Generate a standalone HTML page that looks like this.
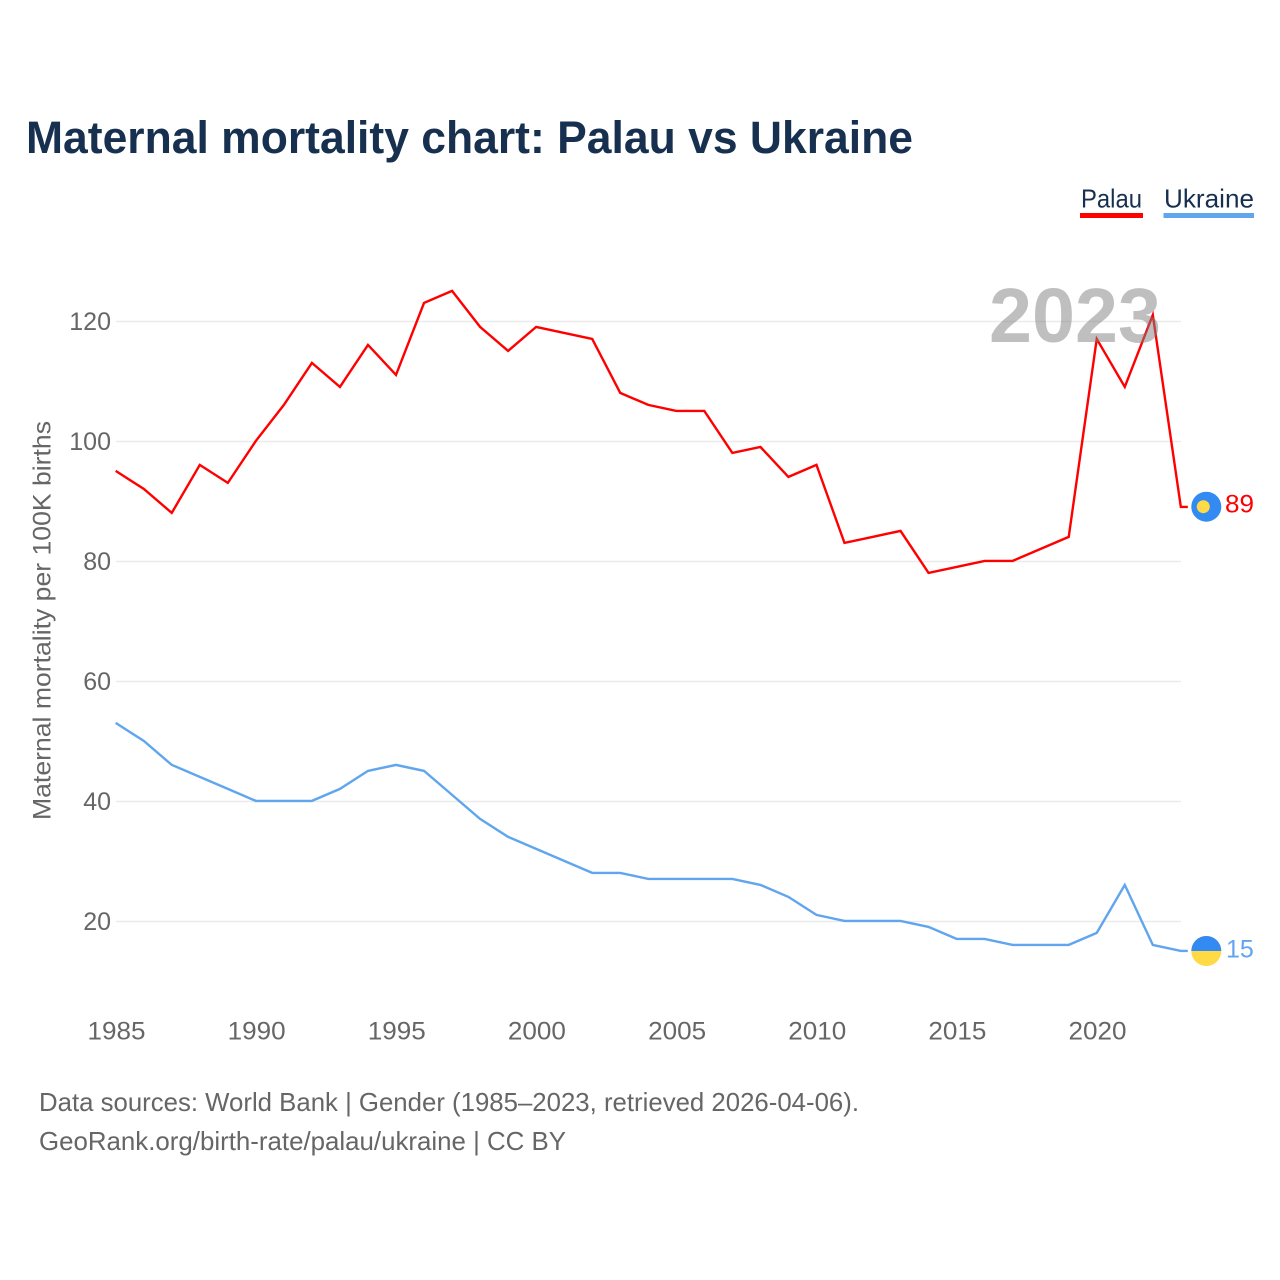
<!DOCTYPE html>
<html lang="en">
<head>
<meta charset="utf-8">
<title>Maternal mortality chart: Palau vs Ukraine</title>
<style>
html,body{margin:0;padding:0;background:#fff;width:1280px;height:1280px;overflow:hidden}
svg{display:block}
text{font-family:"Liberation Sans",sans-serif}
</style>
</head>
<body>
<svg id="chart" width="1280" height="1280" viewBox="0 0 1280 1280" xmlns="http://www.w3.org/2000/svg">
  <rect x="0" y="0" width="1280" height="1280" fill="#fff"/>
  <text x="26" y="153" font-size="45" font-weight="700" fill="#17304f" textLength="887" lengthAdjust="spacingAndGlyphs">Maternal mortality chart: Palau vs Ukraine</text>
  <g>
    <g>
      <text x="1081" y="207.5" font-size="26" fill="#17304f" textLength="61" lengthAdjust="spacingAndGlyphs">Palau</text>
      <rect x="1080" y="213" width="63" height="5" fill="#ff0000"/>
    </g>
    <g>
      <text x="1164" y="207.5" font-size="26" fill="#17304f" textLength="90" lengthAdjust="spacingAndGlyphs">Ukraine</text>
      <rect x="1163.5" y="213" width="90.5" height="5" fill="#60a5ee"/>
    </g>
  </g>
  <g id="grid"></g>
  <g id="yticks"></g>
  <g id="xticks"></g>
  <text transform="translate(50.5,820) rotate(-90)" x="0" y="0" font-size="25" fill="#666" textLength="399" lengthAdjust="spacingAndGlyphs">Maternal mortality per 100K births</text>
  <g id="series"></g>
  <text x="989" y="342" font-size="77" font-weight="700" fill="#808080" fill-opacity="0.5" textLength="172" lengthAdjust="spacingAndGlyphs">2023</text>
  <g id="ends"></g>
  <text x="39" y="1111" font-size="26" fill="#666" textLength="820" lengthAdjust="spacingAndGlyphs">Data sources: World Bank | Gender (1985–2023, retrieved 2026-04-06).</text>
  <text x="39" y="1150" font-size="26" fill="#666" textLength="527" lengthAdjust="spacingAndGlyphs">GeoRank.org/birth-rate/palau/ukraine | CC BY</text>
</svg>
<script>
const years = [1985,1986,1987,1988,1989,1990,1991,1992,1993,1994,1995,1996,1997,1998,1999,2000,2001,2002,2003,2004,2005,2006,2007,2008,2009,2010,2011,2012,2013,2014,2015,2016,2017,2018,2019,2020,2021,2022,2023];
const palauValues = [95,92,88,96,93,100,106,113,109,116,111,123,125,119,115,119,118,117,108,106,105,105,98,99,94,96,83,84,85,78,79,80,80,82,84,117,109,121,89];
const ukraineValues = [53,50,46,44,42,40,40,40,42,45,46,45,41,37,34,32,30,28,28,27,27,27,27,26,24,21,20,20,20,19,17,17,16,16,16,18,26,16,15];
const yTickValues = [20,40,60,80,100,120];
const xTickValues = [1985,1990,1995,2000,2005,2010,2015,2020];

const NS = 'http://www.w3.org/2000/svg';
const xScale = function (year) { return 116 + (year - 1985) * 28.03; };
const yScale = function (value) { return 1041.5 - value * 6; };
const lineY = function (value) { return yScale(value) - 0.6; };
const make = function (tag, parent) {
  const el = document.createElementNS(NS, tag);
  document.getElementById(parent).appendChild(el);
  return el;
};

yTickValues.forEach(function (v) {
  const line = make('line', 'grid');
  
  
  line.setAttribute('x1', 116);
  line.setAttribute('x2', 1181);
  line.setAttribute('y1', yScale(v));
  line.setAttribute('y2', yScale(v));
  line.setAttribute('stroke', '#ebebeb');
  line.setAttribute('stroke-width', 1.5);
  const label = make('text', 'yticks');
  
  
  label.setAttribute('x', 111);
  label.setAttribute('y', yScale(v) + 8.5);
  label.setAttribute('text-anchor', 'end');
  label.setAttribute('font-size', 25);
  label.setAttribute('fill', '#666');
  label.textContent = v;
});

xTickValues.forEach(function (y) {
  const label = make('text', 'xticks');
  
  
  label.setAttribute('x', xScale(y) + 0.5);
  label.setAttribute('y', 1039.5);
  label.setAttribute('text-anchor', 'middle');
  label.setAttribute('font-size', 25);
  label.setAttribute('fill', '#666');
  label.setAttribute('textLength', 58);
  label.setAttribute('lengthAdjust', 'spacingAndGlyphs');
  label.textContent = y;
});

const pathFor = function (values, extra) {
  let d = values.map(function (v, i) {
    return (i ? 'L' : 'M') + (xScale(years[i]) - 0.3).toFixed(2) + ' ' + lineY(v).toFixed(2);
  }).join(' ');
  return d + ' h' + extra;
};

const palauLine = make('path', 'series');


palauLine.setAttribute('d', pathFor(palauValues, 7));
palauLine.setAttribute('fill', 'none');
palauLine.setAttribute('stroke', '#ff0000');
palauLine.setAttribute('stroke-width', 2.4);

const ukraineLine = make('path', 'series');


ukraineLine.setAttribute('d', pathFor(ukraineValues, 7));
ukraineLine.setAttribute('fill', 'none');
ukraineLine.setAttribute('stroke', '#60a5ee');
ukraineLine.setAttribute('stroke-width', 2.4);

const palauEnd = palauValues[palauValues.length - 1];
const ukraineEnd = ukraineValues[ukraineValues.length - 1];
const endCx = 1206.3;

const palauCy = yScale(palauEnd) - 0.8;
const palauFlag = make('circle', 'ends');


palauFlag.setAttribute('cx', endCx);
palauFlag.setAttribute('cy', palauCy);
palauFlag.setAttribute('r', 15);
palauFlag.setAttribute('fill', '#338af3');
const palauSun = make('circle', 'ends');


palauSun.setAttribute('cx', endCx - 3);
palauSun.setAttribute('cy', palauCy);
palauSun.setAttribute('r', 6.5);
palauSun.setAttribute('fill', '#ffda44');
const palauLabel = make('text', 'ends');


palauLabel.setAttribute('x', 1225);
palauLabel.setAttribute('y', palauCy + 6);
palauLabel.setAttribute('font-size', 25);
palauLabel.setAttribute('fill', '#ff0000');
palauLabel.setAttribute('textLength', 29);
palauLabel.setAttribute('lengthAdjust', 'spacingAndGlyphs');
palauLabel.textContent = palauEnd;

const ukraineCy = yScale(ukraineEnd) - 0.5;
const ukraineBase = make('circle', 'ends');


ukraineBase.setAttribute('cx', endCx);
ukraineBase.setAttribute('cy', ukraineCy);
ukraineBase.setAttribute('r', 15);
ukraineBase.setAttribute('fill', '#ffda44');
const ukraineTop = make('path', 'ends');


ukraineTop.setAttribute('d', 'M' + (endCx - 15) + ' ' + ukraineCy + ' A15 15 0 0 1 ' + (endCx + 15) + ' ' + ukraineCy + ' Z');
ukraineTop.setAttribute('fill', '#338af3');
const ukraineLabel = make('text', 'ends');


ukraineLabel.setAttribute('x', 1226);
ukraineLabel.setAttribute('y', ukraineCy + 6.5);
ukraineLabel.setAttribute('font-size', 25);
ukraineLabel.setAttribute('fill', '#60a5ee');
ukraineLabel.textContent = ukraineEnd;
</script>
</body>
</html>
